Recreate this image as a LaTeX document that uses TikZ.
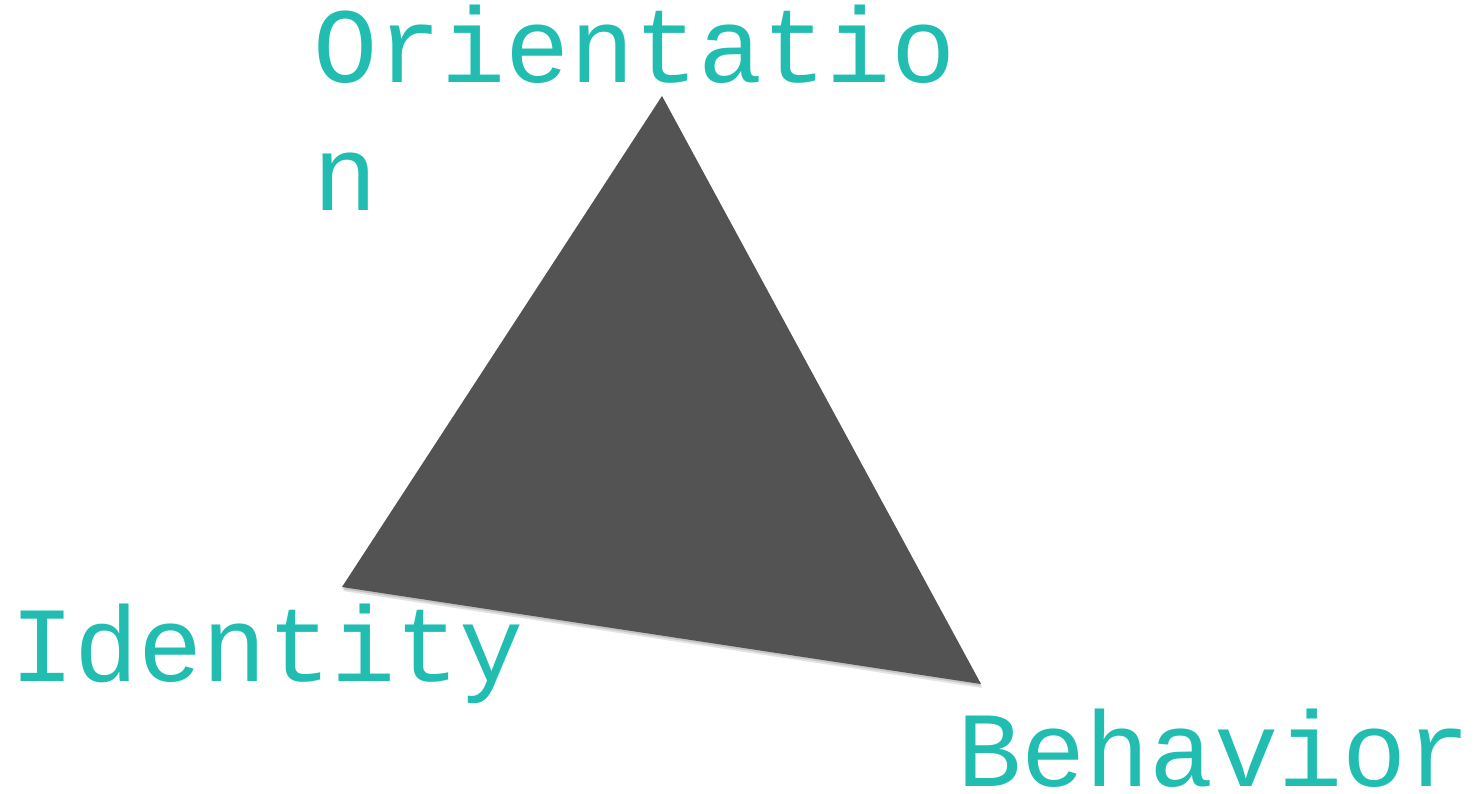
\documentclass[tikz,border=0pt]{standalone}
\usepackage{fontspec}
\setmonofont{Liberation Mono}
\usetikzlibrary{calc}
\definecolor{labelteal}{HTML}{21BDB0}
\definecolor{slab}{HTML}{535353}
\definecolor{shade}{HTML}{8A8A8A}
\newcommand{\vertexfont}{\fontsize{107}{128}\selectfont\ttfamily}
\begin{document}
\begin{tikzpicture}[x=1pt,y=-1pt,font=\vertexfont]
\useasboundingbox (0,0) rectangle (1482,793);
\coordinate (orient) at (662,96);
\coordinate (ident) at (342,587);
\coordinate (behav) at (981,684);
% soft shadow under the slab
\fill[shade,opacity=0.12] ($(orient)+(1,3)$) -- ($(ident)+(1,4)$) -- ($(behav)+(1,4)$) -- cycle;
\fill[shade,opacity=0.18] ($(orient)+(0.5,1.5)$) -- ($(ident)+(0.5,2)$) -- ($(behav)+(0.5,2)$) -- cycle;
\fill[slab] (orient) -- (ident) -- (behav) -- cycle;
\node[anchor=base west,inner sep=0,text=labelteal,align=left] (orientlbl) at (313,210) {Orientatio\\n};
\node[anchor=base west,inner sep=0,text=labelteal] (identlbl) at (10,681) {Identity};
\node[anchor=base west,inner sep=0,text=labelteal] (behavlbl) at (957,786) {Behavior};
\end{tikzpicture}
\end{document}
